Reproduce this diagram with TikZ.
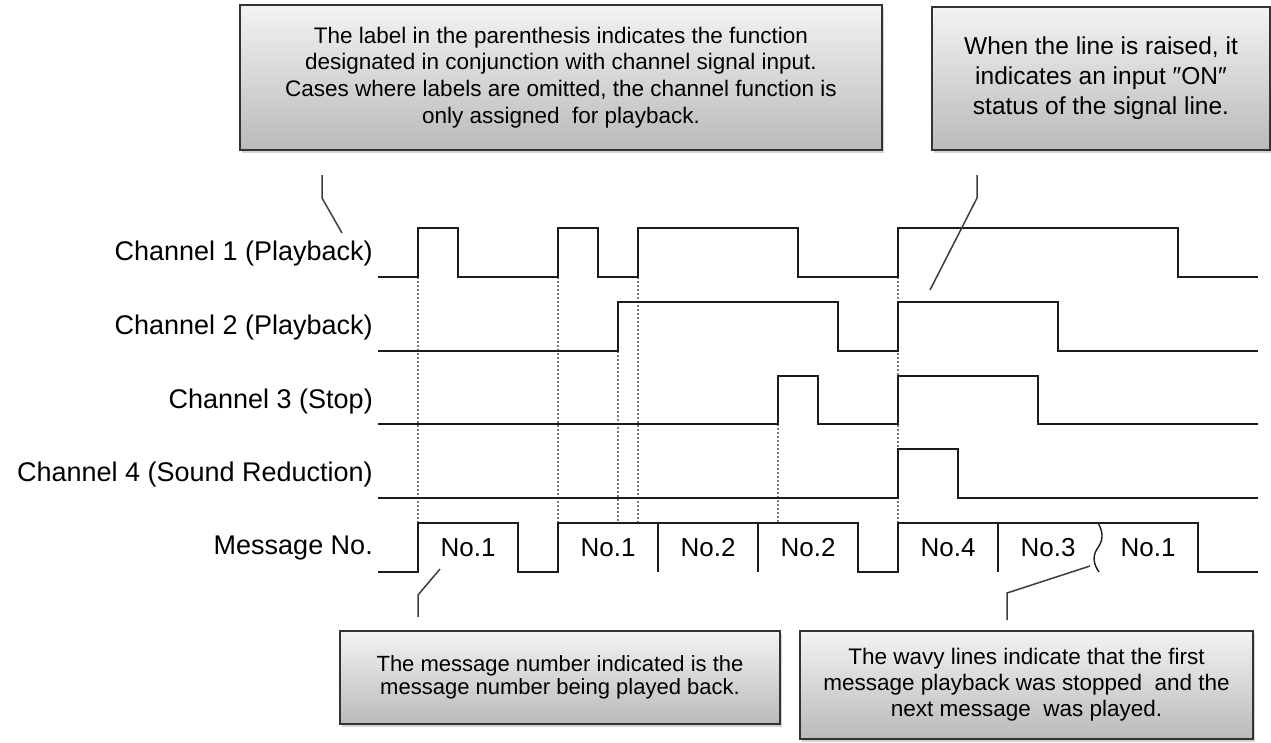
\documentclass[tikz,border=0pt]{standalone}
\usepackage{fontspec}
\setmainfont{Liberation Sans}
\usetikzlibrary{positioning,shadows}
\definecolor{boxtop}{RGB}{243,243,243}
\definecolor{boxbot}{RGB}{186,186,186}
\definecolor{wirec}{RGB}{28,28,28}
\definecolor{guidec}{RGB}{125,125,125}
\definecolor{leadc}{RGB}{60,60,60}
\tikzset{
  note/.style={rectangle,draw=black!80,line width=1.4pt,top color=boxtop,bottom color=boxbot,
    drop shadow={shadow xshift=2pt,shadow yshift=-3pt,opacity=0.35},align=center,inner sep=0pt},
  chan/.style={anchor=east,font=\fontsize{27}{30}\selectfont,inner sep=0pt},
  msg/.style={font=\fontsize{26}{30}\selectfont,inner sep=0pt},
  wire/.style={line width=2pt,wirec,line join=miter},
  guide/.style={line width=1.4pt,guidec,dash pattern=on 2pt off 2pt},
  lead/.style={line width=1.5pt,leadc},
}

\begin{document}
\begin{tikzpicture}[x=1pt,y=-1pt]
  \useasboundingbox (0,0) rectangle (1271,742);
  % callout boxes
  \node[note,minimum width=642pt,minimum height=145pt,font=\fontsize{22.5}{26.7}\selectfont] (tl) at (561,77.5)
    {The label in the parenthesis indicates the function\\designated in conjunction with channel signal input.\\Cases where labels are omitted, the channel function is\\only assigned \ for playback.};
  \node[note,minimum width=338pt,minimum height=143pt,font=\fontsize{24.5}{30}\selectfont] (tr) at (1101,78.5)
    {When the line is raised, it\\indicates an input ″ON″\\status of the signal line.};
  \node[note,minimum width=440pt,minimum height=93pt,font=\fontsize{22}{23}\selectfont] (bl) at (560,677.5)
    {The message number indicated is the\\message number being played back.};
  \node[note,minimum width=453pt,minimum height=108pt,font=\fontsize{22.5}{26}\selectfont] (br) at (1026.5,685)
    {The wavy lines indicate that the first\\message playback was stopped \ and the\\next message \ was played.};

  % channel labels
  \node[chan] (ch1) at (373,254) {Channel 1 (Playback)};
  \node[chan] (ch2) at (373,328) {Channel 2 (Playback)};
  \node[chan] (ch3) at (373,402) {Channel 3 (Stop)};
  \node[chan] (ch4) at (373,475) {Channel 4 (Sound Reduction)};
  \node[chan] (mno) at (373,548) {Message No.};

  % timing guides
  \foreach \gx/\gy in {418/277,558/277,618/351,638/277,778/424,898/277}
    \draw[guide] (\gx,\gy) -- (\gx,523);

  % signal lines
  \draw[wire] (378,277) -- (418,277) -- (418,228) -- (458,228) -- (458,277) -- (558,277) -- (558,228)
    -- (598,228) -- (598,277) -- (638,277) -- (638,228) -- (798,228) -- (798,277) -- (898,277)
    -- (898,228) -- (1178,228) -- (1178,277) -- (1258,277);
  \draw[wire] (378,351) -- (618,351) -- (618,302) -- (838,302) -- (838,351) -- (898,351) -- (898,302)
    -- (1058,302) -- (1058,351) -- (1258,351);
  \draw[wire] (378,424) -- (778,424) -- (778,376) -- (818,376) -- (818,424) -- (898,424) -- (898,376)
    -- (1038,376) -- (1038,424) -- (1258,424);
  \draw[wire] (378,498) -- (898,498) -- (898,449) -- (958,449) -- (958,498) -- (1258,498);
  \draw[wire] (378,572) -- (418,572) -- (418,523) -- (518,523) -- (518,572) -- (558,572) -- (558,523)
    -- (858,523) -- (858,572) -- (898,572) -- (898,523) -- (1198,523) -- (1198,572) -- (1258,572);
  \foreach \sx in {658,758,998}
    \draw[wire] (\sx,523) -- (\sx,572);
  \draw[wire,line width=1.4pt] (1098,523) .. controls (1104,533) and (1103,541) .. (1097,549)
    .. controls (1092,557) and (1094,565) .. (1099,572);

  % message numbers
  \foreach \n/\mx/\t in {1/468/No.1,2/608/No.1,3/708/No.2,4/808/No.2,5/948/No.4,6/1048/No.3,7/1148/No.1}
    \node[msg] (m\n) at (\mx,548) {\t};

  % leaders
  \coordinate (tlfoot) at (322,175);
  \coordinate (tltip) at (342,233);
  \coordinate (trfoot) at (977,175);
  \coordinate (trtip) at (930,290);
  \coordinate (blfoot) at (418,617);
  \coordinate (bltip) at (440,569);
  \coordinate (brfoot) at (1007,620);
  \coordinate (brtip) at (1090,566);
  \draw[lead] (tlfoot) -- ++(0,23) -- (tltip);
  \draw[lead] (trfoot) -- ++(0,23) -- (trtip);
  \draw[lead] (blfoot) -- ++(0,-22) -- (bltip);
  \draw[lead] (brfoot) -- ++(0,-27) -- (brtip);
\end{tikzpicture}
\end{document}
